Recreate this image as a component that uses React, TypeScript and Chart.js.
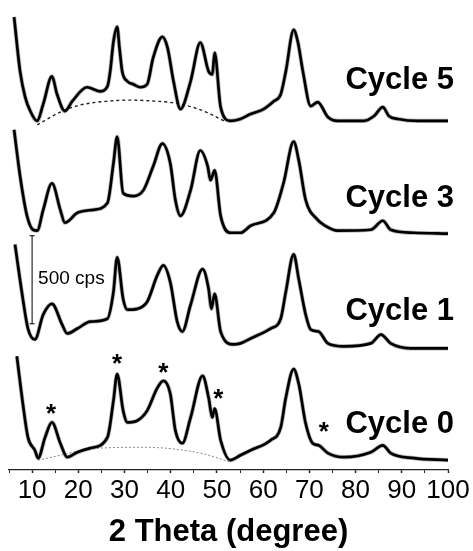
import React, { useEffect, useRef } from 'react';
import { Chart, registerables } from 'chart.js';

Chart.register(...registerables);

const FONT = '"Liberation Sans", Arial, Helvetica, sans-serif';

// 2 Theta (degree) positions and intensities (cps) for each cycle
const cycle5X = [6.1, 7.4, 8.5, 9.6, 11.1, 12.4, 14.3, 15.4, 17.1, 18.7, 21.9, 24.7, 26.3, 26.9, 27.6, 28.4, 28.9, 29.5, 30.6, 31.9, 33.4, 34.9, 36.2, 38.2, 39.3, 40.6, 42.1, 44.3, 46.4, 48.2, 49.0, 49.5, 50.8, 52.9, 55.1, 57.3, 60.1, 62.3, 63.8, 64.9, 66.6, 67.5, 68.6, 70.3, 71.8, 74.0, 76.1, 81.8, 84.0, 85.9, 87.2, 89.2, 93.5, 100];
const cycle5Y = [652, 343, 197, 118, 62, 157, 315, 213, 118, 174, 253, 230, 258, 343, 511, 596, 478, 343, 287, 270, 253, 270, 421, 539, 478, 287, 129, 287, 506, 343, 326, 449, 140, 62, 73, 101, 129, 174, 213, 343, 579, 511, 343, 146, 169, 84, 62, 62, 90, 140, 90, 73, 62, 62];

const cycle3X = [6.1, 7.4, 8.9, 10.2, 11.1, 12.4, 14.3, 16.1, 17.1, 19.8, 23.2, 26.3, 27.6, 28.4, 29.7, 31.9, 34.1, 36.2, 38.2, 39.9, 41.0, 42.1, 44.3, 46.4, 48.0, 48.6, 49.5, 50.8, 52.9, 55.1, 57.3, 62.3, 64.4, 66.6, 67.7, 69.2, 71.8, 73.1, 76.1, 83.3, 85.9, 87.6, 92.6, 100];
const cycle3Y = [652, 388, 163, 84, 79, 197, 348, 197, 124, 180, 197, 236, 461, 612, 292, 275, 309, 444, 573, 461, 253, 163, 309, 534, 444, 365, 421, 163, 67, 67, 107, 180, 348, 584, 478, 253, 140, 112, 79, 84, 135, 84, 67, 62];

const cycle1X = [6.3, 8.0, 9.1, 10.6, 12.4, 14.3, 16.5, 17.6, 19.8, 22.6, 26.3, 27.6, 28.4, 29.7, 30.6, 32.8, 34.9, 37.1, 38.4, 39.9, 41.4, 42.5, 44.3, 46.9, 48.2, 48.8, 49.5, 50.8, 53.6, 55.1, 57.3, 61.6, 63.8, 64.9, 66.6, 67.7, 69.2, 70.3, 72.0, 74.0, 77.5, 83.3, 85.5, 87.6, 92.0, 100];
const cycle1Y = [640, 331, 163, 101, 242, 303, 185, 135, 163, 202, 219, 371, 567, 331, 270, 275, 315, 466, 522, 427, 202, 146, 298, 500, 388, 275, 360, 146, 73, 79, 107, 163, 219, 371, 584, 444, 242, 157, 146, 79, 62, 79, 129, 79, 51, 51];

const cycle0X = [6.7, 8.0, 9.1, 10.6, 11.3, 12.8, 14.3, 16.1, 17.6, 19.8, 22.6, 26.3, 27.6, 28.4, 29.7, 30.6, 32.8, 34.9, 37.1, 38.4, 39.9, 41.0, 42.5, 44.3, 46.9, 48.2, 49.0, 49.5, 50.8, 52.9, 55.1, 57.3, 61.6, 63.8, 64.9, 66.6, 67.7, 69.2, 70.7, 72.0, 74.0, 77.5, 83.3, 85.9, 87.6, 92.6, 100];
const cycle0Y = [646, 376, 185, 112, 67, 185, 270, 152, 73, 101, 124, 185, 393, 545, 337, 270, 281, 337, 466, 506, 433, 225, 152, 298, 534, 410, 298, 348, 169, 56, 84, 112, 169, 242, 410, 573, 489, 264, 152, 140, 96, 73, 101, 140, 96, 67, 56];

// amorphous background (dotted) curves
const bg5X = [11.1, 16.1, 20.4, 26.3, 31.2, 36.7, 41.0, 45.3, 48.6, 51.9];
const bg5Y = [39, 112, 152, 174, 180, 174, 163, 135, 101, 56];
const bg0X = [11.3, 24.7, 34.1, 46.4, 52.9];
const bg0Y = [56, 124, 129, 96, 45];

// stacking offsets (cps)
const cycleNames = ['Cycle 0', 'Cycle 1', 'Cycle 3', 'Cycle 5'];
const cycleOffsets = [0, 640, 1280, 1920];
const cycleLabelX = 77.8;
const cycleLabelY = [258, 899, 1539, 2211];

// reflection markers (*)
const starX = [14.1, 28.4, 38.4, 50.3, 73.1];
const starY = [348, 629, 579, 433, 242];

// scale bar
const scaleBarX = 10;
const scaleBarFrom = 830;
const scaleBarSize = 500;
const scaleLabel = '500 cps';
const scaleLabelX = 11.3;
const scaleLabelY = 1084;

// axis
const xTickValues = [5, 10, 15, 20, 25, 30, 35, 40, 45, 50, 55, 60, 65, 70, 75, 80, 85, 90, 95, 100];
const tickLabels = [10, 20, 30, 40, 50, 60, 70, 80, 90, 100];
const xTitle = '2 Theta (degree)';

export default function App() {
  const ref = useRef<HTMLCanvasElement>(null);

  useEffect(() => {
    document.body.style.margin = '0';
    const canvas = ref.current;
    if (!canvas) return;

    const mk = (xs: number[], ys: number[], off: number) => xs.map((x, i) => ({ x, y: ys[i] + off }));
    const seriesX = [cycle0X, cycle1X, cycle3X, cycle5X];
    const seriesY = [cycle0Y, cycle1Y, cycle3Y, cycle5Y];

    const datasets: any[] = [];
    seriesX.forEach((xs, i) => {
      const data = mk(xs, seriesY[i], cycleOffsets[i]);
      // noise band (halo) beneath the trace
      datasets.push({
        label: cycleNames[i] + ' band',
        data,
        borderColor: 'rgba(0,0,0,0.3)',
        borderWidth: 4.2,
        pointRadius: 0,
        cubicInterpolationMode: 'monotone',
        order: 3,
      });
      datasets.push({
        label: cycleNames[i],
        data,
        borderColor: '#000',
        borderWidth: 2.7,
        pointRadius: 0,
        cubicInterpolationMode: 'monotone',
        order: 1,
      });
    });
    datasets.push({
      label: 'bg5',
      data: mk(bg5X, bg5Y, cycleOffsets[3]),
      borderColor: '#222',
      borderWidth: 1.4,
      borderDash: [3, 3],
      pointRadius: 0,
      cubicInterpolationMode: 'monotone',
      order: 2,
    });
    datasets.push({
      label: 'bg0',
      data: mk(bg0X, bg0Y, cycleOffsets[0]),
      borderColor: '#888',
      borderWidth: 1,
      borderDash: [2, 2],
      pointRadius: 0,
      cubicInterpolationMode: 'monotone',
      order: 2,
    });
    datasets.push({
      label: 'scale',
      data: [
        { x: scaleBarX, y: scaleBarFrom },
        { x: scaleBarX, y: scaleBarFrom + scaleBarSize },
      ],
      borderColor: '#000',
      borderWidth: 1,
      pointStyle: 'line',
      pointRadius: 2.5,
      pointBorderWidth: 1,
      pointBorderColor: '#000',
      order: 1,
    });

    const annot = {
      id: 'annot',
      afterDatasetsDraw(chart: any) {
        const { ctx } = chart;
        const x = chart.scales.x;
        const y = chart.scales.y;
        ctx.save();
        ctx.fillStyle = '#000';
        ctx.font = `bold 31px ${FONT}`;
        ctx.textAlign = 'left';
        ctx.textBaseline = 'middle';
        [3, 2, 1, 0].forEach((i) => {
          ctx.fillText(cycleNames[i], x.getPixelForValue(cycleLabelX), y.getPixelForValue(cycleLabelY[i]));
        });
        ctx.font = `bold 26px ${FONT}`;
        ctx.textAlign = 'center';
        ctx.textBaseline = 'alphabetic';
        const m = ctx.measureText('*');
        const dy = (m.actualBoundingBoxAscent - m.actualBoundingBoxDescent) / 2;
        starX.forEach((sx, i) => {
          ctx.fillText('*', x.getPixelForValue(sx), y.getPixelForValue(starY[i]) + dy);
        });
        ctx.font = `19px ${FONT}`;
        ctx.textAlign = 'left';
        ctx.textBaseline = 'middle';
        ctx.fillText(scaleLabel, x.getPixelForValue(scaleLabelX), y.getPixelForValue(scaleLabelY));
        ctx.restore();
      },
    };

    const chart = new Chart(canvas, {
      type: 'line',
      data: { datasets },
      options: {
        animation: false,
        responsive: false,
        events: [],
        layout: { padding: { left: 9, right: 25, top: 0, bottom: 0 } },
        plugins: { legend: { display: false }, tooltip: { enabled: false } },
        scales: {
          x: {
            type: 'linear',
            min: 5,
            max: 100,
            afterBuildTicks: (axis: any) => {
              axis.ticks = xTickValues.map((v) => ({ value: v }));
            },
            afterFit: (s: any) => {
              s.height = 81;
            },
            ticks: {
              autoSkip: false,
              maxRotation: 0,
              minRotation: 0,
              padding: 2,
              color: '#000',
              font: { family: FONT, size: 26 },
              callback: (v: any) => (tickLabels.includes(Number(v)) ? String(v) : ''),
            },
            grid: {
              drawOnChartArea: false,
              drawTicks: true,
              tickLength: 3,
              tickColor: '#222',
              tickWidth: (c: any) => (tickLabels.includes(c.tick?.value) ? 1.5 : 1),
            },
            border: { display: true, color: '#222', width: 1.3 },
            title: {
              display: true,
              text: xTitle,
              color: '#000',
              font: { family: FONT, size: 31, weight: 'bold' },
              padding: { top: 0, bottom: 0 },
            },
          },
          y: { type: 'linear', display: false, min: 0, max: 2640 },
        },
      } as any,
      plugins: [annot],
    });
    return () => chart.destroy();
  }, []);

  return (
    <div style={{ width: 473, height: 551, position: 'relative' }}>
      <canvas ref={ref} width={473} height={551} style={{ display: 'block' }} />
    </div>
  );
}
